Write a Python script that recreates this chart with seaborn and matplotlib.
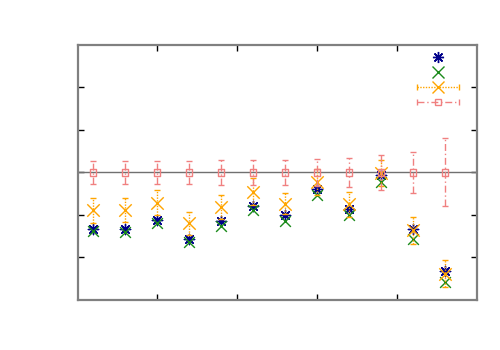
import numpy as np
import pandas as pd
import matplotlib
matplotlib.use("Agg")
import matplotlib.pyplot as plt
import seaborn as sns
from matplotlib.container import ErrorbarContainer
from matplotlib.legend_handler import HandlerErrorbar
from matplotlib.lines import Line2D
from matplotlib.collections import LineCollection

# ---- data ----
x = list(range(1, 13))
blue = [-1.32, -1.33, -1.11, -1.56, -1.15, -0.78, -1.01, -0.40, -0.87, -0.05, -1.34, -2.32]
green = [-1.38, -1.39, -1.18, -1.64, -1.25, -0.89, -1.15, -0.54, -0.99, -0.23, -1.56, -2.58]
orange = [-0.89, -0.89, -0.71, -1.20, -0.81, -0.45, -0.73, -0.22, -0.75, -0.01, -1.36, -2.38]
orange_err = [0.29, 0.28, 0.30, 0.28, 0.29, 0.31, 0.25, 0.31, 0.30, 0.30, 0.32, 0.32]
red = [0.0] * 12
red_err = [0.27, 0.27, 0.28, 0.27, 0.29, 0.29, 0.29, 0.32, 0.35, 0.42, 0.49, 0.80]

df = pd.DataFrame({"x": x, "blue": blue, "green": green})

sns.set_style("white")
plt.rcParams["font.family"] = ["DejaVu Sans"]

fig = plt.figure(figsize=(5, 3.5), dpi=100)
ax = fig.add_axes([0.156, 0.1429, 0.798, 0.7286])

ax.axhline(0, color="#707070", lw=1.0, zorder=1)

c_blue = "#00008b"
c_green = "#1a8a1a"
c_orange = "#ffa500"
c_red = "#f08080"

sns.scatterplot(data=df, x="x", y="blue", ax=ax, marker=(8, 2, 0), s=55,
                color=c_blue, linewidth=1.0, zorder=3, legend=False)
sns.scatterplot(data=df, x="x", y="green", ax=ax, marker="x", s=60,
                color=c_green, linewidth=1.0, zorder=3, legend=False)

eo = ax.errorbar(x, orange, yerr=orange_err, fmt="none", ecolor=c_orange,
                 elinewidth=1.0, capsize=2.5, capthick=1.0, zorder=4)
eo[2][0].set_linestyle((0, (1, 1)))
so = ax.scatter(x, orange, marker="x", s=80, color=c_orange, linewidth=1.0, zorder=4)

er = ax.errorbar(x, red, yerr=red_err, fmt="none", ecolor=c_red,
                 elinewidth=1.0, capsize=2.5, capthick=1.0, zorder=5)
er[2][0].set_linestyle((0, (5, 2, 1, 2)))
sr = ax.scatter(x, red, marker="s", s=24, facecolor="none", edgecolor=c_red,
                linewidth=1.0, zorder=5)

ax.set_xlim(0.53, 13.0)
ax.set_ylim(-3, 3)
ax.set_xticks([3.0, 5.5, 8.0, 10.5])
ax.set_yticks([-2, -1, 0, 1, 2])
ax.set_xticklabels([])
ax.set_yticklabels([])
ax.set_xlabel("")
ax.set_ylabel("")
ax.tick_params(direction="in", length=4, width=1, color="black",
               top=True, right=True, bottom=True, left=True)
for s in ax.spines.values():
    s.set_color("#808080")
    s.set_linewidth(1.6)

# legend proxies (horizontal error bars as in reference)
lo = Line2D([], [], linestyle="none", marker="x", markersize=9,
            color=c_orange, markeredgewidth=1.0)
cap_o = Line2D([], [], linestyle="none", marker="|", color=c_orange, markersize=5)
bar_o = LineCollection([], colors=c_orange, linewidths=1.0, linestyles=[(0, (1, 1))])
h_orange = ErrorbarContainer((lo, [cap_o, cap_o], [bar_o]), has_xerr=True, has_yerr=False)

lr = Line2D([], [], linestyle="none", marker="s", markersize=5,
            markerfacecolor="none", markeredgecolor=c_red, markeredgewidth=1.0)
cap_r = Line2D([], [], linestyle="none", marker="|", color=c_red, markersize=5)
bar_r = LineCollection([], colors=c_red, linewidths=1.0, linestyles=[(0, (5, 2, 1, 2))])
h_red = ErrorbarContainer((lr, [cap_r, cap_r], [bar_r]), has_xerr=True, has_yerr=False)

h_blue = Line2D([], [], linestyle="none", marker=(8, 2, 0), markersize=8,
                color=c_blue, markeredgewidth=1.0)
h_green = Line2D([], [], linestyle="none", marker="x", markersize=8,
                 color=c_green, markeredgewidth=1.0)

leg = ax.legend([h_blue, h_green, h_orange, h_red], [" ", " ", " ", " "],
                handler_map={ErrorbarContainer: HandlerErrorbar(xerr_size=1.5)},
                loc="upper right", bbox_to_anchor=(0.98, 0.997), frameon=False,
                numpoints=1, handlelength=3.0, handletextpad=0.0,
                labelspacing=0.07, fontsize=10, borderaxespad=0.0)

fig.savefig("out.png", dpi=100)
